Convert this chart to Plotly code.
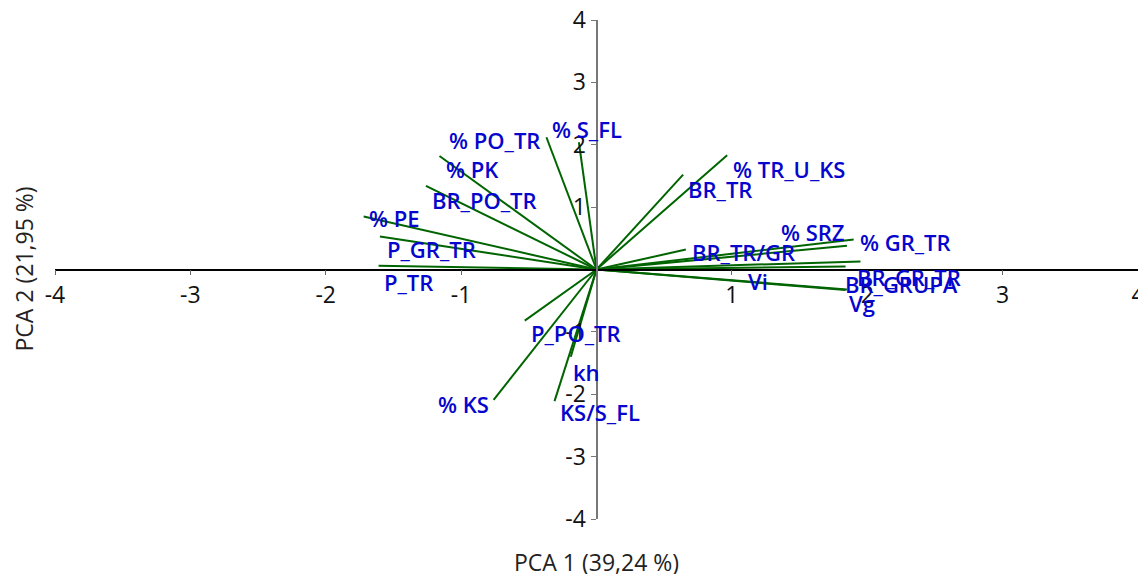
import plotly.graph_objects as go

# PCA loadings (PC1, PC2) per variable
variables = ['% PO_TR', '% S_FL', '% PK', 'BR_PO_TR', '% PE', 'P_GR_TR', 'P_TR',
             '% TR_U_KS', 'BR_TR', '% SRZ', '% GR_TR', 'BR_TR/GR', 'Vi', 'BR_GR_TR',
             'BR_GRUPA', 'Vg', 'P_PO_TR', 'kh', '% KS', 'KS/S_FL']
pc1 = [-0.37, -0.13, -1.16, -1.26, -1.72, -1.60, -1.61,
       0.965, 0.64, 1.85, 1.90, 0.66, 1.84, 1.95,
       1.85, 1.84, -0.53, -0.19, -0.76, -0.31]
pc2 = [2.12, 2.04, 1.82, 1.34, 0.85, 0.53, 0.06,
       1.83, 1.52, 0.38, 0.48, 0.32, 0.05, 0.13,
       -0.32, -0.33, -0.82, -1.40, -2.09, -2.11]
tick_values = [-4, -3, -2, -1, 1, 2, 3, 4]
tick_labels = ['-4', '-3', '-2', '-1', '1', '2', '3', '4']

# label offsets from arrow tips, in pixels (x right, y up)
label_dx = [-52, 8, 33, 59, 31, 52, 30, 62, 37, -34, 52, 58, -88, 49, 55, 16, 51, 16, -30, 45]
label_dy = [-3, 13, -13, -14, -2, -13, -16, -14, -14, 14, -2, -2, -15, -16, 5, -13, -12, -15, -4, -11]

font_name = "Open Sans, Noto Sans, sans-serif"

xs, ys = [], []
for a, b in zip(pc1, pc2):
    xs += [0, a, None]
    ys += [0, b, None]

fig = go.Figure(go.Scatter(x=xs, y=ys, mode='lines',
                           line=dict(color='rgb(0,100,0)', width=2),
                           hoverinfo='skip', showlegend=False))

for name, a, b, dx, dy in zip(variables, pc1, pc2, label_dx, label_dy):
    fig.add_annotation(x=a, y=b, text=name, showarrow=False,
                       xshift=dx, yshift=dy,
                       font=dict(family=font_name, size=22, weight=600, color='rgb(5,5,205)'))

fig.add_annotation(xref='paper', yref='paper', x=0.5, y=0, yshift=-43,
                   xanchor='center', yanchor='middle',
                   text='PCA 1 (39,24 %)', showarrow=False,
                   font=dict(family=font_name, size=23, color='#222'))
fig.add_annotation(xref='paper', yref='paper', x=0, y=0.5, xshift=-32,
                   xanchor='center', yanchor='middle',
                   text='PCA 2 (21,95 %)', showarrow=False, textangle=-90,
                   font=dict(family=font_name, size=23, color='#222'))

fig.update_xaxes(range=[-4, 4], anchor='free', position=0.5, automargin=False,
                 tickvals=tick_values, ticktext=tick_labels, ticklabeloverflow='allow',
                 ticks='outside', ticklen=5, tickcolor='#666',
                 showline=True, linecolor='black', linewidth=1.5,
                 showgrid=False, zeroline=False, ticklabelstandoff=0,
                 tickfont=dict(family=font_name, size=23, color='#111'))
fig.update_yaxes(range=[-4, 4], anchor='free', position=0.5, automargin=False,
                 tickvals=tick_values, ticktext=tick_labels, ticklabeloverflow='allow',
                 ticks='outside', ticklen=5, tickcolor='#777',
                 showline=True, linecolor='#777', linewidth=2,
                 showgrid=False, zeroline=False,
                 tickfont=dict(family=font_name, size=23, color='#111'))

# page body adds an 8px offset, so the figure is a bit smaller than the window
fig.update_layout(width=1138, height=566, plot_bgcolor='white', paper_bgcolor='white',
                  margin=dict(l=47, r=8, t=12, b=55))

fig.write_html("out.html")
